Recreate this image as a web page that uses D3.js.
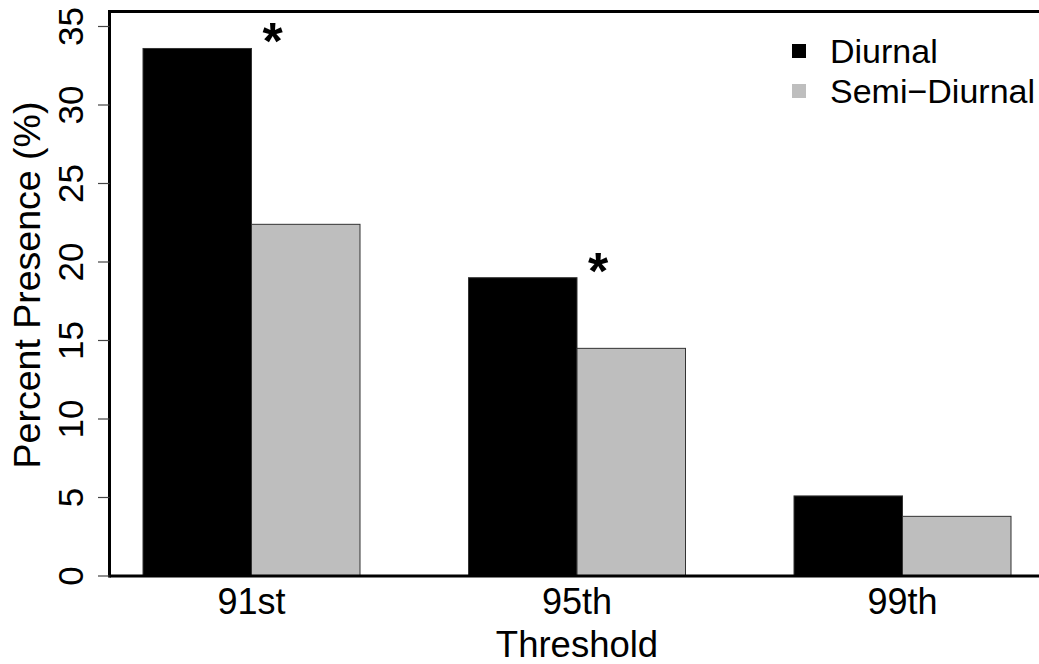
<!DOCTYPE html>
<html><head><meta charset="utf-8">
<script src="https://cdn.jsdelivr.net/npm/d3@7"></script>
<style>body{margin:0;background:#fff}svg{display:block}text{font-family:"Liberation Sans",Arial,Helvetica,sans-serif}</style>
</head><body><svg id="c" width="1039" height="664"></svg>
<script>
const categories = ["91st", "95th", "99th"];
const diurnal = [33.6, 19.0, 5.1];
const semiDiurnal = [22.4, 14.5, 3.8];
const significant = [true, true, false];
const yTicks = [0, 5, 10, 15, 20, 25, 30, 35];
const seriesNames = ["Diurnal", "Semi\u2212Diurnal"];
const seriesColors = ["#000000", "#bebebe"];

const svg = d3.select("#c");
const W = 1039, H = 664;
const mLeft = 109.5, mTop = 11.5, mBottom = 576;

const y = d3.scaleLinear().domain([0, 35]).range([mBottom, 26.5]);
// bar units: group i occupies units [1+3i, 3+3i]
const x = d3.scaleLinear().domain([1, 9]).range([143, 1011]);

const series = [diurnal, semiDiurnal];
categories.forEach((c, i) => {
  series.forEach((s, j) => {
    const u0 = 1 + 3 * i + j;
    svg.append("rect")
      .attr("x", x(u0)).attr("width", x(u0 + 1) - x(u0))
      .attr("y", y(s[i])).attr("height", y(0) - y(s[i]))
      .attr("fill", seriesColors[j]).attr("stroke", "#333").attr("stroke-width", 1);
  });
  if (significant[i]) {
    svg.append("text").attr("x", x(3 * i + 2) + 21).attr("y", y(diurnal[i]) + 11)
      .attr("text-anchor", "middle").attr("font-size", 52).attr("font-weight", "bold").text("*");
  }
  svg.append("text").attr("x", x(3 * i + 2)).attr("y", 614)
    .attr("text-anchor", "middle").attr("font-size", 36).text(c);
});

// frame lines
svg.append("line").attr("x1", mLeft).attr("x2", mLeft).attr("y1", mTop - 1.5).attr("y2", mBottom + 1.5).attr("stroke", "#000").attr("stroke-width", 3);
svg.append("line").attr("x1", mLeft).attr("x2", W).attr("y1", mTop).attr("y2", mTop).attr("stroke", "#000").attr("stroke-width", 3);
svg.append("line").attr("x1", mLeft).attr("x2", W).attr("y1", mBottom).attr("y2", mBottom).attr("stroke", "#000").attr("stroke-width", 3);

// y axis ticks
const yAxis = svg.append("g");
yTicks.forEach(t => {
  yAxis.append("line").attr("x1", 98).attr("x2", mLeft).attr("y1", y(t)).attr("y2", y(t)).attr("stroke", "#444").attr("stroke-width", 1.2);
  yAxis.append("text").attr("transform", `translate(83,${y(t)}) rotate(-90)`)
    .attr("text-anchor", "middle").attr("font-size", 35).text(t);
});

svg.append("text").attr("transform", `translate(40,${285}) rotate(-90)`)
  .attr("text-anchor", "middle").attr("font-size", 37.5).text("Percent Presence (%)");
svg.append("text").attr("x", x(5)).attr("y", 657).attr("text-anchor", "middle").attr("font-size", 36.5).text("Threshold");

// legend
seriesNames.forEach((n, j) => {
  const cy = 51 + j * 40;
  svg.append("rect").attr("x", 792).attr("y", cy - 7).attr("width", 14).attr("height", 14).attr("fill", seriesColors[j]);
  svg.append("text").attr("x", 830).attr("y", cy + 12).attr("font-size", 34).text(n);
});
</script></body></html>
